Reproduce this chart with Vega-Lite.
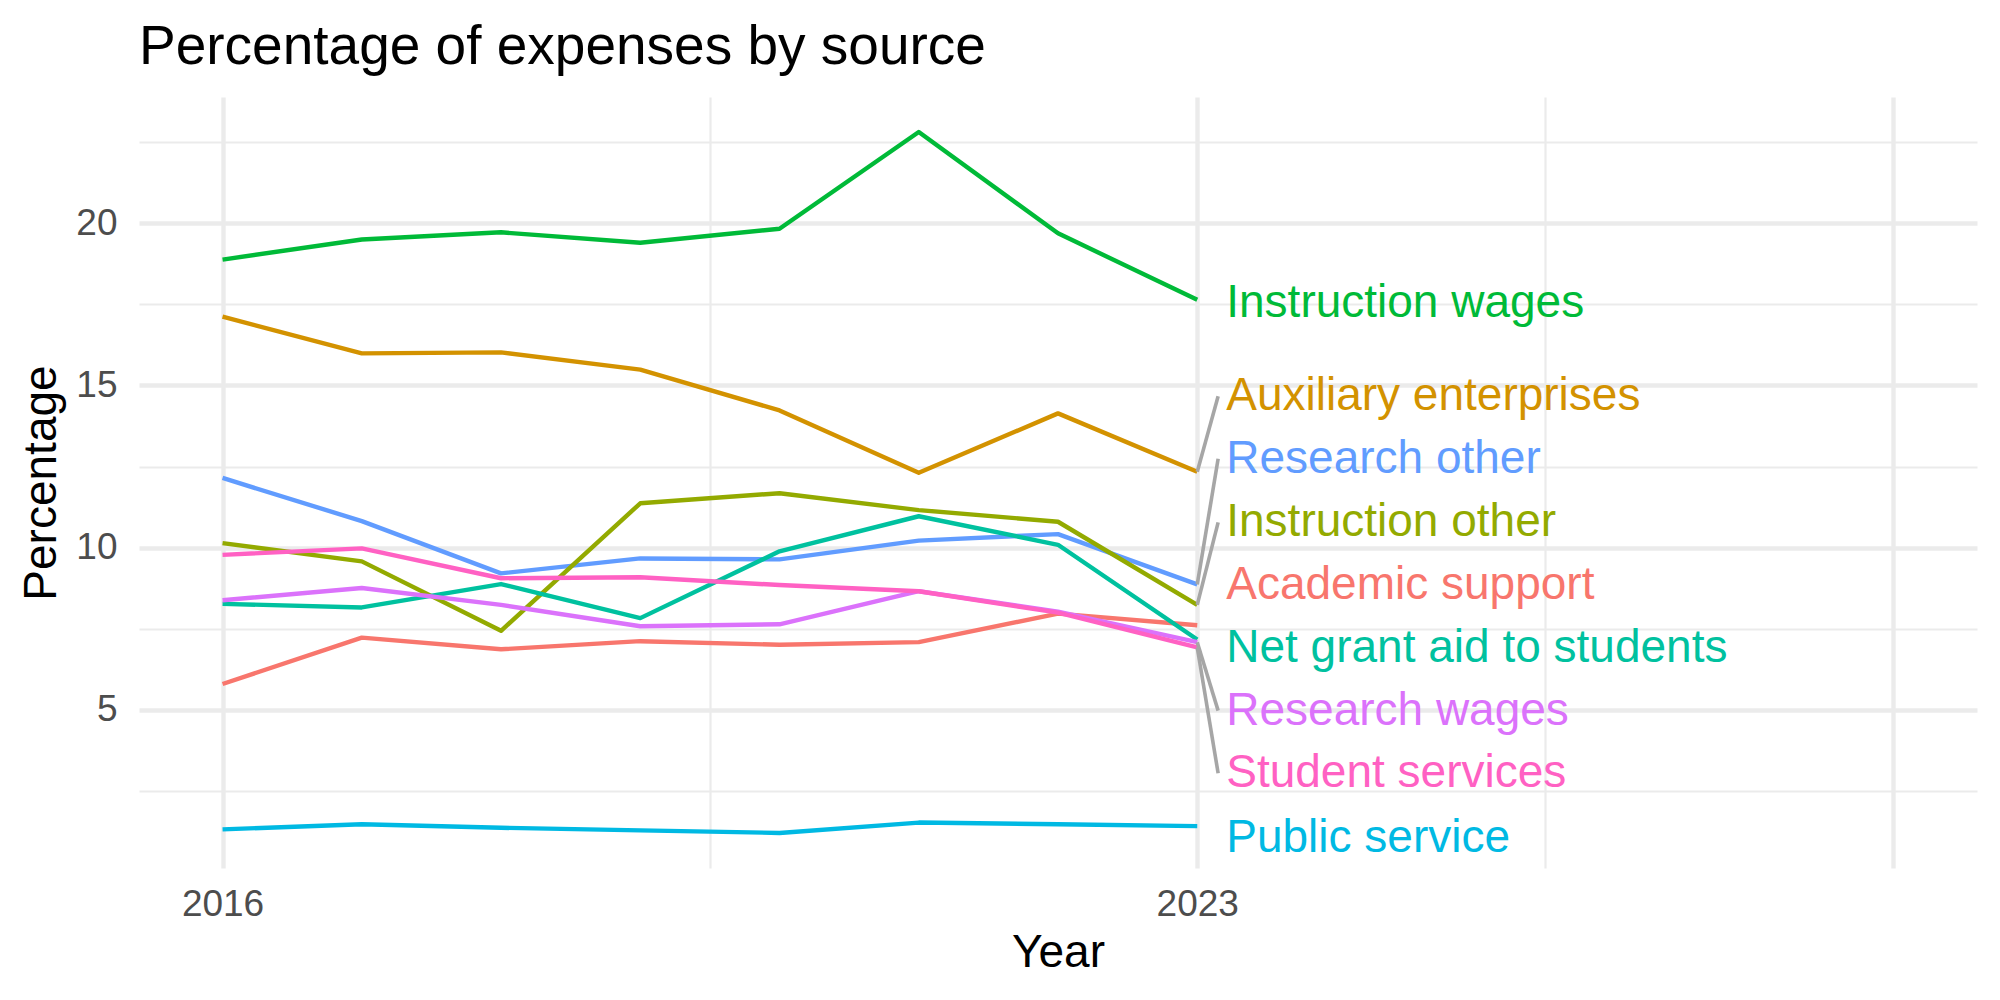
{
  "$schema": "https://vega.github.io/schema/vega-lite/v6.json",
  "autosize": {"type": "none"},
  "width": 1838,
  "height": 771,
  "padding": {"left": 139, "top": 97, "right": 23, "bottom": 132},
  "background": "#FFFFFF",
  "title": {
    "text": "Percentage of expenses by source",
    "anchor": "start",
    "frame": "group",
    "font": "Liberation Sans",
    "fontSize": 55,
    "fontWeight": "normal",
    "color": "#000000",
    "baseline": "alphabetic",
    "offset": -22
  },
  "datasets": {
    "expenses": [
      {"source": "Instruction wages", "year": 2016, "value": 18.88},
      {"source": "Instruction wages", "year": 2017, "value": 19.50},
      {"source": "Instruction wages", "year": 2018, "value": 19.72},
      {"source": "Instruction wages", "year": 2019, "value": 19.40},
      {"source": "Instruction wages", "year": 2020, "value": 19.83},
      {"source": "Instruction wages", "year": 2021, "value": 22.81},
      {"source": "Instruction wages", "year": 2022, "value": 19.69},
      {"source": "Instruction wages", "year": 2023, "value": 17.64},
      {"source": "Auxiliary enterprises", "year": 2016, "value": 17.12},
      {"source": "Auxiliary enterprises", "year": 2017, "value": 15.99},
      {"source": "Auxiliary enterprises", "year": 2018, "value": 16.02},
      {"source": "Auxiliary enterprises", "year": 2019, "value": 15.49},
      {"source": "Auxiliary enterprises", "year": 2020, "value": 14.23},
      {"source": "Auxiliary enterprises", "year": 2021, "value": 12.31},
      {"source": "Auxiliary enterprises", "year": 2022, "value": 14.14},
      {"source": "Auxiliary enterprises", "year": 2023, "value": 12.34},
      {"source": "Research other", "year": 2016, "value": 12.15},
      {"source": "Research other", "year": 2017, "value": 10.82},
      {"source": "Research other", "year": 2018, "value": 9.21},
      {"source": "Research other", "year": 2019, "value": 9.67},
      {"source": "Research other", "year": 2020, "value": 9.64},
      {"source": "Research other", "year": 2021, "value": 10.22},
      {"source": "Research other", "year": 2022, "value": 10.42},
      {"source": "Research other", "year": 2023, "value": 8.87},
      {"source": "Instruction other", "year": 2016, "value": 10.14},
      {"source": "Instruction other", "year": 2017, "value": 9.58},
      {"source": "Instruction other", "year": 2018, "value": 7.44},
      {"source": "Instruction other", "year": 2019, "value": 11.37},
      {"source": "Instruction other", "year": 2020, "value": 11.68},
      {"source": "Instruction other", "year": 2021, "value": 11.16},
      {"source": "Instruction other", "year": 2022, "value": 10.80},
      {"source": "Instruction other", "year": 2023, "value": 8.24},
      {"source": "Academic support", "year": 2016, "value": 5.80},
      {"source": "Academic support", "year": 2017, "value": 7.23},
      {"source": "Academic support", "year": 2018, "value": 6.87},
      {"source": "Academic support", "year": 2019, "value": 7.12},
      {"source": "Academic support", "year": 2020, "value": 7.01},
      {"source": "Academic support", "year": 2021, "value": 7.09},
      {"source": "Academic support", "year": 2022, "value": 7.97},
      {"source": "Academic support", "year": 2023, "value": 7.61},
      {"source": "Net grant aid to students", "year": 2016, "value": 8.27},
      {"source": "Net grant aid to students", "year": 2017, "value": 8.16},
      {"source": "Net grant aid to students", "year": 2018, "value": 8.88},
      {"source": "Net grant aid to students", "year": 2019, "value": 7.83},
      {"source": "Net grant aid to students", "year": 2020, "value": 9.89},
      {"source": "Net grant aid to students", "year": 2021, "value": 10.97},
      {"source": "Net grant aid to students", "year": 2022, "value": 10.09},
      {"source": "Net grant aid to students", "year": 2023, "value": 7.17},
      {"source": "Research wages", "year": 2016, "value": 8.38},
      {"source": "Research wages", "year": 2017, "value": 8.76},
      {"source": "Research wages", "year": 2018, "value": 8.24},
      {"source": "Research wages", "year": 2019, "value": 7.58},
      {"source": "Research wages", "year": 2020, "value": 7.64},
      {"source": "Research wages", "year": 2021, "value": 8.66},
      {"source": "Research wages", "year": 2022, "value": 8.03},
      {"source": "Research wages", "year": 2023, "value": 7.09},
      {"source": "Student services", "year": 2016, "value": 9.78},
      {"source": "Student services", "year": 2017, "value": 9.98},
      {"source": "Student services", "year": 2018, "value": 9.06},
      {"source": "Student services", "year": 2019, "value": 9.09},
      {"source": "Student services", "year": 2020, "value": 8.85},
      {"source": "Student services", "year": 2021, "value": 8.66},
      {"source": "Student services", "year": 2022, "value": 8.00},
      {"source": "Student services", "year": 2023, "value": 6.93},
      {"source": "Public service", "year": 2016, "value": 1.32},
      {"source": "Public service", "year": 2017, "value": 1.48},
      {"source": "Public service", "year": 2018, "value": 1.37},
      {"source": "Public service", "year": 2019, "value": 1.29},
      {"source": "Public service", "year": 2020, "value": 1.21},
      {"source": "Public service", "year": 2021, "value": 1.53},
      {"source": "Public service", "year": 2022, "value": 1.48},
      {"source": "Public service", "year": 2023, "value": 1.42}
    ],
    "labels": [
      {"source": "Instruction wages", "label_pos": 17.54},
      {"source": "Auxiliary enterprises", "label_pos": 14.67},
      {"source": "Research other", "label_pos": 12.74},
      {"source": "Instruction other", "label_pos": 10.78},
      {"source": "Academic support", "label_pos": 8.85},
      {"source": "Net grant aid to students", "label_pos": 6.90},
      {"source": "Research wages", "label_pos": 4.98},
      {"source": "Student services", "label_pos": 3.05},
      {"source": "Public service", "label_pos": 1.06}
    ]
  },
  "resolve": {"axis": {"x": "independent", "y": "independent"}},
  "layer": [
    {
      "data": {"name": "expenses"},
      "mark": {"type": "line", "strokeWidth": 4.4, "strokeJoin": "round"},
      "encoding": {
        "x": {
          "field": "year",
          "type": "quantitative",
          "scale": {"domain": [2015.4, 2028.6], "nice": false, "zero": false},
          "axis": {
            "orient": "bottom",
            "values": [2016, 2023, 2028],
            "format": "d",
            "labelExpr": "datum.value == 2028 ? '' : datum.label",
            "title": "Year",
            "domain": false,
            "ticks": false,
            "labelFlush": false,
            "labelOverlap": false,
            "labelPadding": 18,
            "labelFont": "Liberation Sans",
            "labelFontSize": 37,
            "labelColor": "#4D4D4D",
            "titleFont": "Liberation Sans",
            "titleFontSize": 46,
            "titleFontWeight": "normal",
            "titleColor": "#000000",
            "titlePadding": 8,
            "grid": true,
            "gridColor": "#EBEBEB",
            "gridWidth": 4.4
          }
        },
        "y": {
          "field": "value",
          "type": "quantitative",
          "scale": {"domain": [0.13, 23.89], "nice": false, "zero": false},
          "axis": {
            "orient": "left",
            "values": [5, 10, 15, 20],
            "title": "Percentage",
            "domain": false,
            "ticks": false,
            "labelOverlap": false,
            "labelPadding": 22,
            "labelFont": "Liberation Sans",
            "labelFontSize": 37,
            "labelColor": "#4D4D4D",
            "titleFont": "Liberation Sans",
            "titleFontSize": 46,
            "titleFontWeight": "normal",
            "titleColor": "#000000",
            "titlePadding": 10,
            "grid": true,
            "gridColor": "#EBEBEB",
            "gridWidth": 4.4
          }
        },
        "color": {
          "field": "source",
          "type": "nominal",
          "scale": {
            "domain": ["Academic support", "Auxiliary enterprises", "Instruction other", "Instruction wages", "Net grant aid to students", "Public service", "Research other", "Research wages", "Student services"],
            "range": ["#F8766D", "#D39200", "#93AA00", "#00BA38", "#00C19F", "#00B9E3", "#619CFF", "#DB72FB", "#FF61C3"]
          },
          "legend": null
        }
      }
    },
    {
      "data": {"name": "expenses"},
      "transform": [
        {"filter": "datum.year == 2023"},
        {"filter": {"field": "source", "oneOf": ["Auxiliary enterprises", "Research other", "Instruction other", "Research wages", "Student services"]}},
        {"lookup": "source", "from": {"data": {"name": "labels"}, "key": "source", "fields": ["label_pos"]}}
      ],
      "mark": {"type": "rule", "color": "#A6A6A6", "strokeWidth": 3.6},
      "encoding": {
        "x": {"field": "year", "type": "quantitative", "axis": null},
        "x2": {"datum": 2023.15},
        "y": {"field": "value", "type": "quantitative", "axis": null},
        "y2": {"field": "label_pos"}
      }
    },
    {
      "data": {"name": "expenses"},
      "transform": [
        {"filter": "datum.year == 2023"},
        {"lookup": "source", "from": {"data": {"name": "labels"}, "key": "source", "fields": ["label_pos"]}}
      ],
      "mark": {"type": "text", "align": "left", "baseline": "middle", "dx": 29, "font": "Liberation Sans", "fontSize": 46},
      "encoding": {
        "x": {
          "field": "year",
          "type": "quantitative",
          "axis": {
            "orient": "top",
            "values": [2019.5, 2025.5],
            "title": null,
            "labels": false,
            "ticks": false,
            "domain": false,
            "grid": true,
            "gridColor": "#EBEBEB",
            "gridWidth": 2.2
          }
        },
        "y": {
          "field": "label_pos",
          "type": "quantitative",
          "axis": {
            "orient": "right",
            "values": [2.5, 7.5, 12.5, 17.5, 22.5],
            "title": null,
            "labels": false,
            "ticks": false,
            "domain": false,
            "grid": true,
            "gridColor": "#EBEBEB",
            "gridWidth": 2.2
          }
        },
        "text": {"field": "source", "type": "nominal"},
        "color": {"field": "source", "type": "nominal", "legend": null}
      }
    }
  ],
  "config": {
    "view": {"stroke": null},
    "font": "Liberation Sans"
  }
}
